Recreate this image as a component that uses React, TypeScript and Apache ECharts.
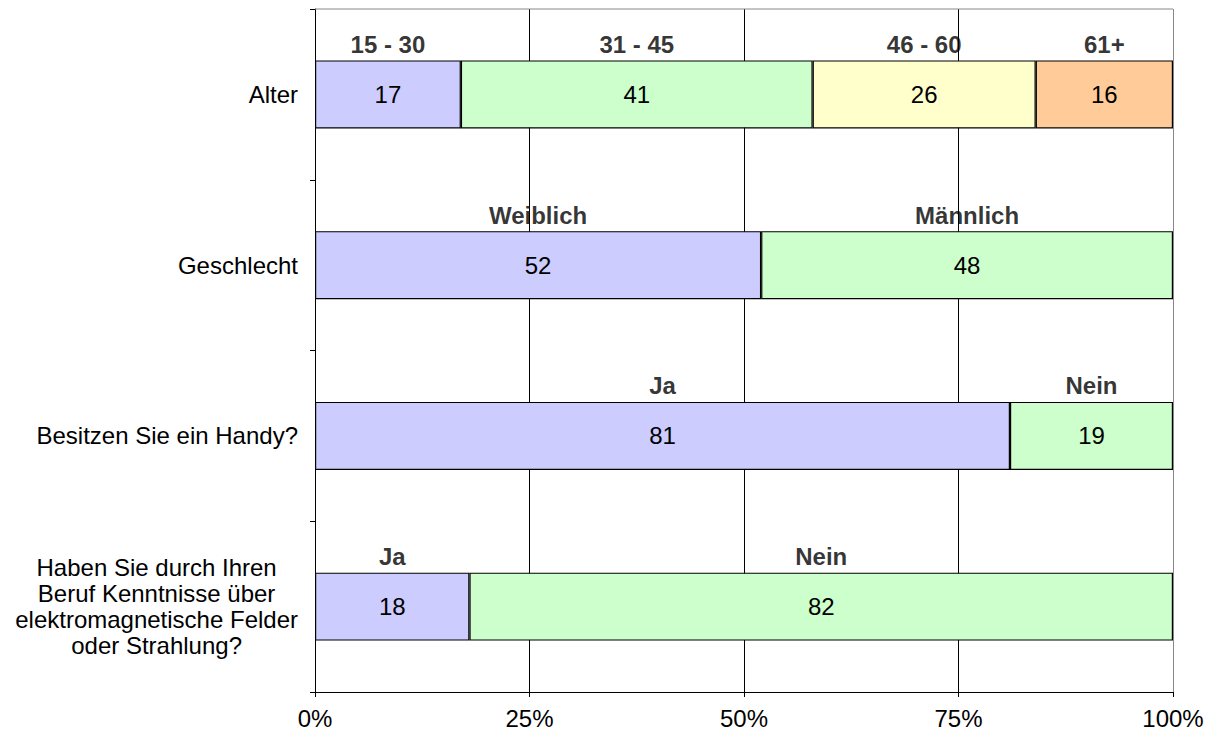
import React, { useEffect, useRef } from "react";
import * as echarts from "echarts";

// Survey questions shown on the vertical axis (top to bottom)
const questions = [
  "Alter",
  "Geschlecht",
  "Besitzen Sie ein Handy?",
  "Haben Sie durch Ihren\nBeruf Kenntnisse über\nelektromagnetische Felder\noder Strahlung?",
];

// Answer groups per question
const alterGroups = ["15 - 30", "31 - 45", "46 - 60", "61+"];
const geschlechtGroups = ["Weiblich", "Männlich"];
const handyGroups = ["Ja", "Nein"];
const berufGroups = ["Ja", "Nein"];

// Shares in percent per question
const alterValues = [17, 41, 26, 16];
const geschlechtValues = [52, 48];
const handyValues = [81, 19];
const berufValues = [18, 82];

const xTicks = [0, 25, 50, 75, 100];

const segmentColors = ["#CCCCFF", "#CCFFCC", "#FFFFCC", "#FFCC99"];

const FONT = "Liberation Sans, Arial, sans-serif";
const FS = 24;

export default function App() {
  const ref = useRef<HTMLDivElement>(null);

  useEffect(() => {
    if (!ref.current) return;
    const chart = echarts.init(ref.current, null, { renderer: "svg" });

    const rowValues = [alterValues, geschlechtValues, handyValues, berufValues];
    const rowGroups = [alterGroups, geschlechtGroups, handyGroups, berufGroups];
    const maxSegments = Math.max(...rowValues.map((r) => r.length));

    const barSeries = Array.from({ length: maxSegments }, (_, s) => ({
      type: "bar",
      name: "seg" + s,
      stack: "total",
      barWidth: 68,
      itemStyle: {
        color: segmentColors[s],
        borderColor: "#000",
        borderWidth: 1.2,
      },
      label: {
        show: true,
        position: "inside",
        color: "#000",
        textBorderWidth: 0,
        fontFamily: FONT,
        fontSize: FS,
        formatter: (p: any) => String(p.value),
      },
      data: rowValues.map((r) => (s < r.length ? r[s] : "-")),
      z: 3,
    }));

    // Group names centered above each segment
    const headerData: any[] = [];
    rowValues.forEach((vals, i) => {
      let acc = 0;
      vals.forEach((v, j) => {
        headerData.push({ value: [acc + v / 2, i], name: rowGroups[i][j] });
        acc += v;
      });
    });

    chart.setOption({
      animation: false,
      backgroundColor: "#fff",
      grid: {
        left: 315,
        right: 39,
        top: 9,
        bottom: 48,
        show: false,
      },
      xAxis: {
        type: "value",
        min: 0,
        max: 100,
        interval: 25,
        axisLine: { show: true, lineStyle: { color: "#000", width: 1 } },
        axisTick: { show: true, length: 5, lineStyle: { color: "#000" } },
        axisLabel: {
          color: "#000",
          fontFamily: FONT,
          fontSize: FS,
          margin: 14,
          formatter: (v: number) => (xTicks.includes(v) ? v + "%" : ""),
        },
        splitLine: {
          show: true,
          lineStyle: { color: ["#888", "#000", "#000", "#000", "#888"], width: 1 },
        },
      },
      yAxis: {
        type: "category",
        inverse: true,
        data: questions,
        axisLine: { show: true, lineStyle: { color: "#000", width: 1 } },
        axisTick: { show: true, length: 5, lineStyle: { color: "#000" } },
        axisLabel: {
          color: "#000",
          fontFamily: FONT,
          fontSize: FS,
          margin: 17,
          align: "right",
          lineHeight: 26,
          formatter: (v: string) =>
            v
              .split("\n")
              .map((line) => "{c|" + line + "}")
              .join("\n"),
          rich: {
            c: {
              align: "center",
              fontFamily: FONT,
              fontSize: FS,
              lineHeight: 26,
              color: "#000",
            },
          },
        },
        splitLine: { show: false },
      },
      series: [
        ...barSeries,
        {
          type: "scatter",
          name: "groups",
          symbolSize: 0,
          itemStyle: { color: "transparent" },
          data: headerData,
          label: {
            show: true,
            position: "inside",
            offset: [0, -50],
            color: "#000",
            textBorderWidth: 0,
            fontWeight: "bold",
            fontFamily: FONT,
            fontSize: FS,
            formatter: (p: any) => p.name,
          },
          z: 5,
        },
      ],
      graphic: [
        // light frame on the top edge of the plot area
        {
          type: "line",
          shape: { x1: 315, y1: 9, x2: 1173, y2: 9 },
          style: { stroke: "#888", lineWidth: 1 },
          z: 1,
        },
      ],
    });

    return () => chart.dispose();
  }, []);

  return (
    <div
      ref={ref}
      style={{ position: "fixed", left: 0, top: 0, width: 1212, height: 740 }}
    />
  );
}
